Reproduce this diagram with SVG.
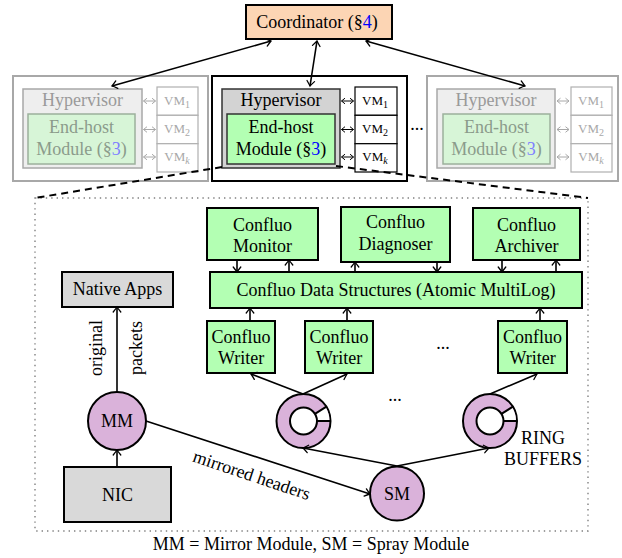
<svg xmlns="http://www.w3.org/2000/svg" width="622" height="558" viewBox="0 0 622 558">
<defs>
<style>
text{font-family:"Liberation Serif","Times New Roman",serif;font-size:18px;fill:#000}
.c{text-anchor:middle}
.bx{stroke:#000;stroke-width:2}
.gr{fill:#b3ffb3}
.gy{fill:#d9d9d9}
.pk{fill:#dab2da;stroke:#000;stroke-width:2}
.la{fill:none;stroke:#000;stroke-width:1.6;marker-end:url(#ah)}
.lb{fill:none;stroke:#000;stroke-width:1.6;marker-start:url(#ah);marker-end:url(#ah)}
.sm{fill:none;stroke:#000;stroke-width:1}
.smg{fill:none;stroke:#a8a8a8;stroke-width:1}
.vm{font-size:13px}
.sub{font-size:10px}
.fo{fill:#fff;stroke:#a8a8a8;stroke-width:2}
.fh{fill:#eeeeee;stroke:#a8a8a8;stroke-width:1.5}
.fe{fill:#d7f5d7;stroke:#9cb09c;stroke-width:1.5}
.fv{fill:#fff;stroke:#b0b0b0;stroke-width:1.2}
.ft{fill:#9a9a9a}
.fte{fill:#8b9b8b}
.ftv{fill:#a8a8a8}
</style>
<marker id="ah" markerUnits="userSpaceOnUse" orient="auto-start-reverse" viewBox="-7 -5 8 10" refX="0" refY="0" markerWidth="8" markerHeight="10" overflow="visible">
<path d="M-5,-3.8 Q-1.5,-1 0,0 Q-1.5,1 -5,3.8" fill="none" stroke="#000" stroke-width="1.3" stroke-linecap="round"/>
</marker>
<path id="dbl" d="M0,0 H12 M3.5,-2.8 L0,0 L3.5,2.8 M8.5,-2.8 L12,0 L8.5,2.8"/>
<g id="ring">
<circle cx="0" cy="0" r="27" class="pk"/>
<path d="M13.5,0 L26,0 A26,26 0 0 0 22.05,-13.78 L11.45,-7.15 A13.5,13.5 0 0 1 13.5,0 Z" fill="#fff"/>
<circle cx="0" cy="0" r="13.5" fill="#fff" stroke="#000" stroke-width="2"/>
<path d="M13.5,0 L27,0 M11.45,-7.15 L22.9,-14.3" stroke="#000" stroke-width="2" fill="none"/>
</g>
</defs>
<rect width="622" height="558" fill="#fff"/>

<rect x="35" y="198" width="553" height="333" fill="none" stroke="#808080" stroke-width="1.4" stroke-dasharray="1.4 4"/>

<g id="coordinator">
<rect x="246" y="5" width="146" height="34" fill="#fcd5b4" class="bx"/>
<text x="317" y="28" class="c">Coordinator (§<tspan fill="#00f">4</tspan>)</text>
</g>

<g id="host-left">
<rect x="13" y="76" width="195" height="105" class="fo"/>
<rect x="23" y="89" width="119" height="79" class="fh"/>
<text x="82.5" y="106" class="c ft">Hypervisor</text>
<rect x="28" y="114" width="107" height="50" class="fe"/>
<text x="81.5" y="133" class="c fte">End-host</text>
<text x="81.5" y="155" class="c fte">Module (§<tspan fill="#7f7fff">3</tspan>)</text>
<rect x="157" y="87" width="41" height="28.3" class="fv"/>
<rect x="157" y="115.3" width="41" height="28.4" class="fv"/>
<rect x="157" y="143.7" width="41" height="28.3" class="fv"/>
<text x="177" y="105" class="c vm ftv">VM<tspan class="sub" dy="3">1</tspan></text>
<text x="177" y="133" class="c vm ftv">VM<tspan class="sub" dy="3">2</tspan></text>
<text x="177" y="161" class="c vm ftv">VM<tspan class="sub" dy="3" font-style="italic">k</tspan></text>
<use href="#dbl" x="143.5" y="101" class="smg"/>
<use href="#dbl" x="143.5" y="129.5" class="smg"/>
<use href="#dbl" x="143.5" y="157" class="smg"/>
</g>

<g id="host-middle">
<rect x="212" y="76" width="195" height="105" fill="#fff" class="bx"/>
<rect x="222" y="89" width="118" height="79" fill="#d3d3d3" stroke="#333" stroke-width="1.5"/>
<text x="281" y="106" class="c">Hypervisor</text>
<rect x="227" y="114" width="108" height="50" class="gr" stroke="#333" stroke-width="1.5"/>
<text x="281" y="133" class="c">End-host</text>
<text x="281" y="155" class="c">Module (§<tspan fill="#00f">3</tspan>)</text>
<rect x="355" y="87" width="42" height="28.3" fill="#fff" stroke="#000" stroke-width="1.2"/>
<rect x="355" y="115.3" width="42" height="28.4" fill="#fff" stroke="#000" stroke-width="1.2"/>
<rect x="355" y="143.7" width="42" height="28.3" fill="#fff" stroke="#000" stroke-width="1.2"/>
<text x="375" y="105" class="c vm">VM<tspan class="sub" dy="3">1</tspan></text>
<text x="375" y="133" class="c vm">VM<tspan class="sub" dy="3">2</tspan></text>
<text x="375" y="161" class="c vm">VM<tspan class="sub" dy="3" font-style="italic">k</tspan></text>
<use href="#dbl" x="341.5" y="101" class="sm"/>
<use href="#dbl" x="341.5" y="129.5" class="sm"/>
<use href="#dbl" x="341.5" y="157" class="sm"/>
</g>

<g id="ellipsis-hosts">
<text x="417" y="130" class="c">...</text>
</g>

<g id="host-right">
<rect x="427" y="76" width="191" height="105" class="fo"/>
<rect x="437" y="89" width="118" height="79" class="fh"/>
<text x="496" y="106" class="c ft">Hypervisor</text>
<rect x="443" y="114" width="107" height="50" class="fe"/>
<text x="496.5" y="133" class="c fte">End-host</text>
<text x="496.5" y="155" class="c fte">Module (§<tspan fill="#7f7fff">3</tspan>)</text>
<rect x="571" y="87" width="41" height="28.3" class="fv"/>
<rect x="571" y="115.3" width="41" height="28.4" class="fv"/>
<rect x="571" y="143.7" width="41" height="28.3" class="fv"/>
<text x="591" y="105" class="c vm ftv">VM<tspan class="sub" dy="3">1</tspan></text>
<text x="591" y="133" class="c vm ftv">VM<tspan class="sub" dy="3">2</tspan></text>
<text x="591" y="161" class="c vm ftv">VM<tspan class="sub" dy="3" font-style="italic">k</tspan></text>
<use href="#dbl" x="557" y="101" class="smg"/>
<use href="#dbl" x="557" y="129.5" class="smg"/>
<use href="#dbl" x="557" y="157" class="smg"/>
</g>

<g id="monitor">
<rect x="207" y="208" width="111" height="52" class="gr bx"/>
<text x="262.5" y="231" class="c">Confluo</text>
<text x="262.5" y="252" class="c">Monitor</text>
</g>
<g id="diagnoser">
<rect x="341" y="207" width="109" height="55" class="gr bx"/>
<text x="395.5" y="228" class="c">Confluo</text>
<text x="395.5" y="250" class="c">Diagnoser</text>
</g>
<g id="archiver">
<rect x="473" y="208" width="107" height="52" class="gr bx"/>
<text x="526.5" y="231" class="c">Confluo</text>
<text x="526.5" y="252" class="c">Archiver</text>
</g>
<g id="datastructures">
<rect x="210" y="272" width="372" height="36" class="gr bx"/>
<text x="396" y="296" class="c">Confluo Data Structures (Atomic MultiLog)</text>
</g>
<g id="writer1">
<rect x="207" y="321" width="68" height="52" class="gr bx"/>
<text x="241" y="343" class="c">Confluo</text>
<text x="241" y="364" class="c">Writer</text>
</g>
<g id="writer2">
<rect x="305" y="321" width="68" height="52" class="gr bx"/>
<text x="339" y="343" class="c">Confluo</text>
<text x="339" y="364" class="c">Writer</text>
</g>
<g id="writer3">
<rect x="498" y="321" width="69" height="52" class="gr bx"/>
<text x="532.5" y="343" class="c">Confluo</text>
<text x="532.5" y="364" class="c">Writer</text>
</g>
<g id="ellipsis-writers">
<text x="443" y="349" class="c">...</text>
<text x="395" y="401" class="c">...</text>
</g>
<g id="native-apps">
<rect x="62" y="272" width="111" height="35" class="gy bx"/>
<text x="117.5" y="295" class="c">Native Apps</text>
</g>
<g id="nic">
<rect x="64" y="467" width="107" height="55" class="gy bx"/>
<text x="117.5" y="501" class="c">NIC</text>
</g>
<g id="mm">
<circle cx="117" cy="421" r="29" class="pk"/>
<text x="117" y="427" class="c">MM</text>
</g>
<g id="sm">
<circle cx="397" cy="493.5" r="27" class="pk"/>
<text x="397" y="500" class="c">SM</text>
</g>
<g id="ring1"><use href="#ring" x="303.5" y="421"/></g>
<g id="ring2"><use href="#ring" x="490" y="421"/></g>
<g id="ring-label">
<text x="543" y="444" class="c">RING</text>
<text x="543" y="465" class="c">BUFFERS</text>
</g>

<g id="connectors">
<path d="M271,41 L112,86" class="lb"/>
<path d="M317,41 L310,86" class="lb"/>
<path d="M366,41 L525,86" class="lb"/>
<path d="M222,167 L35,198 M336,166 L588,198" fill="none" stroke="#000" stroke-width="2" stroke-dasharray="7 5"/>
<path d="M237,260 V272" class="la"/>
<path d="M289,272 V260" class="la"/>
<path d="M355,272 V262" class="la"/>
<path d="M437,262 V272" class="la"/>
<path d="M502,260 V272" class="la"/>
<path d="M556,272 V260" class="la"/>
<path d="M250,321 V308" class="la"/>
<path d="M347,321 V308" class="la"/>
<path d="M540,321 V308" class="la"/>
<path d="M303,394 L251,374" class="la"/>
<path d="M303,394 L347,374" class="la"/>
<path d="M490,394 L537,374" class="la"/>
<path d="M397,466 L303,448" class="la"/>
<path d="M397,466 L489,448" class="la"/>
<path d="M117,467 V450" class="la"/>
<path d="M117,392 V307" class="la"/>
<path d="M146,421 L370,494" class="la"/>
<text transform="translate(102,348) rotate(-90)" class="c">original</text>
<text transform="translate(142,348) rotate(-90)" class="c">packets</text>
<text transform="translate(251,477) rotate(18.5)" y="4" class="c">mirrored headers</text>
</g>

<g id="caption">
<text x="311" y="550" class="c">MM = Mirror Module, SM = Spray Module</text>
</g>
</svg>
